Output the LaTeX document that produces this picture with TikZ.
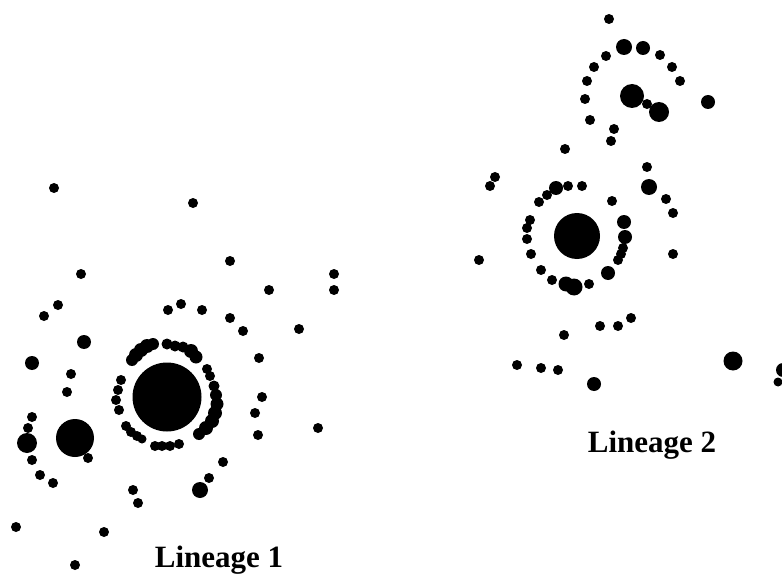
\documentclass[tikz,border=0pt]{standalone}
\usepackage{fontspec}
\setmainfont{Liberation Serif}
\begin{document}
\begin{tikzpicture}[x=1pt,y=-1pt,
  dot/.style={circle,fill=black,draw=none,inner sep=0pt},
  lineagelabel/.style={font=\fontsize{31}{31}\selectfont\bfseries,inner sep=0pt,anchor=base}]
\useasboundingbox (0,0) rectangle (782,575);

% ---- Lineage 1: central body
\node[dot,minimum size=69pt] (core1) at (167,397) {};
% ring around the central body
\foreach \x/\y/\r [count=\i] in {
  132/360/6,136/355/7,141/350/7,147/346/7,153/344/6,
  167/344/5.5,175/346/5.5,183/347/5.5,191/351/7,196/357/6.5,
  207/369/5,210/376/5,214/386/5.5,216/395/6,217/404/6.5,215/413/7,212/421/7,206/428/7,199/434/6,
  121/380/5,118/390/5,116/400/5,119/410/5,126/426/5,131/432/5,137/436/5,142/439/4.5,
  155/446/5,162/446/5,170/446/5,179/444/5}
  \node[dot,minimum size={2*\r pt}] (ringA\i) at (\x,\y) {};
% scattered members
\foreach \x/\y/\r [count=\i] in {
  54/188/5,193/203/5,81/274/5,58/305/5,44/316/5,84/342/7,32/363/7,
  71/374/5,67/392/5,32/417/5,28/428/5,27/443/10,75/438/19,88/458/5,
  32/460/5,40/475/5,53/483/5,133/490/5,138/503/5,200/490/8,209/478/5,
  223/462/5,16/527/5,104/532/5,75/565/5,230/261/5,334/274/5,334/290/5,
  269/290/5,168/310/5,181/304/5,202/310/5,230/318/5,243/331/5,299/329/5,
  259/358/5,262/397/5,255/413/5,258/435/5,318/428/5}
  \node[dot,minimum size={2*\r pt}] (outA\i) at (\x,\y) {};
\node[lineagelabel] (labelA) at (219,567) {Lineage 1};

% ---- Lineage 2: central body
\node[dot,minimum size=46pt] (core2) at (577,236) {};
% ring around the central body
\foreach \x/\y/\r [count=\i] in {
  556/188/7,568/186/5,582/186/5,547/195/5,539/202/5,612/201/5,
  530/220/5,527/228/5,527/239/5,531/254/5,541/270/5,552/280/5,
  566/284/7.5,574/287/8.5,589/284/5,608/273/7,618/260/5,621/254/5,623/248/5,
  625/237/7,624/222/7}
  \node[dot,minimum size={2*\r pt}] (ringB\i) at (\x,\y) {};
% scattered members
\foreach \x/\y/\r [count=\i] in {
  609/19/5,624/47/8,643/48/7,660/55/5,672/67/5,680/81/5,606/56/5,
  594/67/5,587/81/5,585/99/5,590/120/5,632/96/12,647/104/5,659/112/10,
  708/102/7,614/129/5,611/141/5,565/149/5,495/177/5,490/186/5,
  647/167/5,649/187/8,666/199/5,673/213/5,673/254/5,479/260/5,
  631/318/5,618/326/5,600/326/5,564/335/5,517/365/5,541/368/5,
  558/370/5,594/384/7,733/361/9.5,783/370/7,778/382/4.5}
  \node[dot,minimum size={2*\r pt}] (outB\i) at (\x,\y) {};
\node[lineagelabel] (labelB) at (652,452) {Lineage 2};
\end{tikzpicture}
\end{document}
